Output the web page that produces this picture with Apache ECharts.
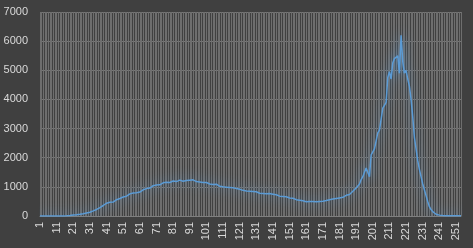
<!DOCTYPE html>
<html><head><meta charset="utf-8">
<script src="https://cdn.jsdelivr.net/npm/echarts@6/dist/echarts.min.js"></script>
<style>html,body{margin:0;padding:0;background:#404040}#c{width:473px;height:248px}</style>
</head><body><div id="c"></div>
<script>
const yTicks = [0,1000,2000,3000,4000,5000,6000,7000];
const values = [
0,0,0,0,0,0,0,0,0,0,
0,0,0,0,2,5,8,12,18,25,
32,38,45,55,62,70,80,92,105,118,
130,150,175,200,225,255,290,320,360,400,
440,420,470,500,480,530,560,540,600,620,
650,700,680,740,760,720,790,820,800,810,
820,850,900,880,940,980,960,1010,1040,1050,
1060,1080,1070,1120,1140,1100,1160,1180,1150,1190,
1200,1220,1180,1210,1230,1200,1190,1250,1220,1240,
1230,1210,1240,1200,1180,1210,1170,1190,1150,1160,
1150,1120,1100,1130,1080,1060,1090,1040,1020,1050,
1000,1030,990,960,980,950,970,930,940,910,
920,900,880,910,860,870,850,820,840,830,
830,800,780,810,770,790,760,740,770,750,
750,720,730,700,680,700,670,650,660,630,
620,600,610,580,560,570,540,530,520,510,
490,450,500,480,500,520,490,510,500,480,
510,470,530,520,560,540,580,570,600,610,
620,650,640,690,710,760,740,800,850,900,
960,1000,1100,1250,1350,1500,1650,1700,1350,2100,
2200,2300,2250,2850,2950,3000,3700,3800,3900,4750,
4950,4700,5250,5400,5350,5500,4900,6200,5300,4900,
5000,4700,4450,4000,3400,2700,2300,1900,1600,1350,
1100,900,700,500,320,220,150,100,60,40,
30,20,15,12,10,10,10,10,10,10,
10,10,10,10
];
const categories = values.map((v,i)=>String(i+1));
const chart = echarts.init(document.getElementById('c'));
chart.setOption({
  backgroundColor:'#404040',
  animation:false,
  grid:{left:40,right:12,top:12,bottom:32},
  xAxis:{type:'category',data:categories,boundaryGap:false,
    axisLine:{lineStyle:{color:'#7f7f7f'}},
    axisTick:{show:false},
    splitLine:{show:true,interval:0,lineStyle:{color:'#6e6e6e',width:1}},
    axisLabel:{interval:9,rotate:90,color:'#d9d9d9',fontSize:11,fontFamily:'Liberation Sans',margin:6}
  },
  yAxis:{type:'value',min:yTicks[0],max:yTicks[yTicks.length-1],interval:1000,
    axisLine:{show:false},axisTick:{show:false},
    splitLine:{lineStyle:{color:'#777777'}},
    axisLabel:{color:'#d9d9d9',fontSize:11,fontFamily:'Liberation Sans',margin:12,formatter:v=>String(v)}
  },
  series:[{type:'line',data:values,showSymbol:false,symbol:'none',
    lineStyle:{color:'#5b9bd5',width:1.5,shadowColor:'rgba(91,155,213,1)',shadowBlur:12}
  }]
});
</script></body></html>
